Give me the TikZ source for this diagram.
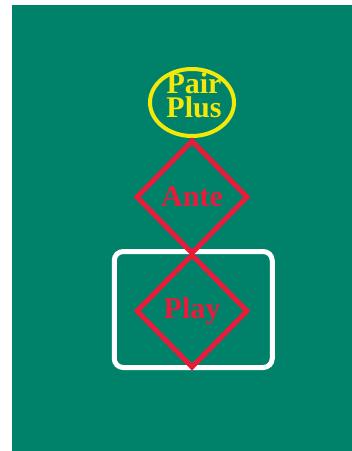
\documentclass[tikz,border=0pt]{standalone}
\usepackage{fontspec}
\setmainfont{Liberation Serif}
\usetikzlibrary{shapes.geometric}
\definecolor{felt}{RGB}{0,130,106}
\definecolor{ppyellow}{RGB}{242,232,10}
\definecolor{betred}{RGB}{232,28,58}
\tikzset{
  lbl/.style={font=\bfseries\fontsize{30}{24}\selectfont, inner sep=0pt, align=center},
  betdiamond/.style={diamond, draw=betred, line width=5pt, minimum width=112pt, minimum height=114pt, inner sep=0pt, text=betred, lbl},
}
\begin{document}
\begin{tikzpicture}[x=1pt,y=-1pt]
\useasboundingbox (0,0) rectangle (352,451);
\fill[white] (0,0) rectangle (352,451);
\fill[felt] (12,5) rectangle (352,451);
% play box
\node[draw=white, line width=5pt, rounded corners=9pt, minimum width=158pt, minimum height=116pt, inner sep=0pt] (box) at (193.25,309.5) {};
% pair plus
\node[ellipse, draw=ppyellow, line width=4pt, minimum width=84pt, minimum height=67pt, inner sep=0pt] (pp) at (192,102.5) {};
\node[lbl, text=ppyellow] (pptext) at (194,95) {Pair\\Plus};
% diamonds
\node[betdiamond] (ante) at (192,197) {Ante};
\node[betdiamond] (play) at (192,311) {Play};
\end{tikzpicture}
\end{document}
